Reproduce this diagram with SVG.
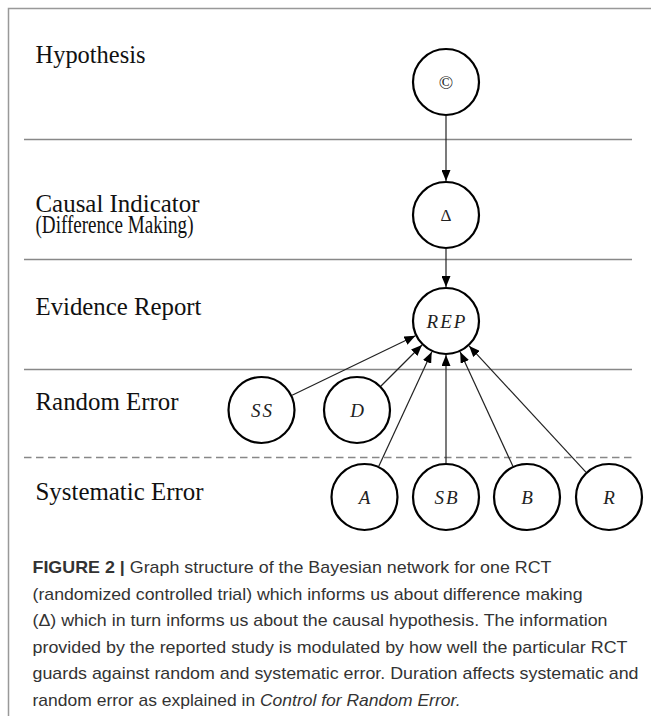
<svg xmlns="http://www.w3.org/2000/svg" width="651" height="716" viewBox="0 0 651 716">
<style>
.lbl{font-family:"Liberation Serif","Times New Roman",serif;font-size:24.5px;fill:#111}
.node circle{fill:#fff;stroke:#000;stroke-width:2.2}
.nt{font-family:"Liberation Serif","Times New Roman",serif;font-style:italic;font-size:19px;fill:#222;text-anchor:middle;letter-spacing:2px}
.sep{stroke:#888;stroke-width:1.4}
.edge line{stroke:#222;stroke-width:1.2;marker-end:url(#ah)}
.cap{font-family:"Liberation Sans",Arial,sans-serif;font-size:17px;fill:#333}
</style>
<defs>
<marker id="ah" markerUnits="userSpaceOnUse" markerWidth="11" markerHeight="9" refX="11" refY="4.5" orient="auto">
<path d="M0,0 L11,4.5 L0,9 z" fill="#000"/>
</marker>
</defs>
<rect width="651" height="716" fill="#fff"/>
<path d="M8.5,716 V8.5 H651" fill="none" stroke="#999" stroke-width="1.5"/>
<g id="separators">
<line class="sep" x1="24" y1="139.5" x2="632" y2="139.5"/>
<line class="sep" x1="24" y1="259.5" x2="632" y2="259.5"/>
<line class="sep" x1="24" y1="369.5" x2="632" y2="369.5"/>
<line class="sep" x1="24" y1="457.5" x2="632" y2="457.5" stroke-dasharray="7.5 4.5"/>
</g>
<g id="row-labels">
<text class="lbl" x="35.5" y="63" textLength="110" lengthAdjust="spacingAndGlyphs">Hypothesis</text>
<text class="lbl" x="35.5" y="212" textLength="164" lengthAdjust="spacingAndGlyphs">Causal Indicator</text>
<text class="lbl" x="35.5" y="233" textLength="158" lengthAdjust="spacingAndGlyphs">(Difference Making)</text>
<text class="lbl" x="35.5" y="315" textLength="166" lengthAdjust="spacingAndGlyphs">Evidence Report</text>
<text class="lbl" x="35.5" y="410" textLength="143" lengthAdjust="spacingAndGlyphs">Random Error</text>
<text class="lbl" x="35.5" y="500" textLength="168" lengthAdjust="spacingAndGlyphs">Systematic Error</text>
</g>
<g id="connectors" class="edge">
<line x1="446" y1="116" x2="446" y2="181"/>
<line x1="446" y1="249" x2="446" y2="287"/>
<line x1="292.1" y1="395.2" x2="415.4" y2="335.8"/>
<line x1="381" y1="386" x2="422" y2="345"/>
<line x1="378.8" y1="466.2" x2="431.7" y2="351.9"/>
<line x1="446" y1="463" x2="446" y2="355"/>
<line x1="512.8" y1="466.1" x2="460.2" y2="351.9"/>
<line x1="585.9" y1="472.1" x2="469.1" y2="345.9"/>
</g>
<g id="node-H" class="node"><circle cx="446" cy="82" r="33"/><text x="446" y="89" text-anchor="middle" font-family="Liberation Serif, serif" font-size="19" fill="#222">©</text></g>
<g id="node-Delta" class="node"><circle cx="446" cy="215" r="33"/><text x="446" y="221" text-anchor="middle" font-family="Liberation Serif, serif" font-size="17" fill="#222">Δ</text></g>
<g id="node-REP" class="node"><circle cx="446" cy="321" r="33"/><text class="nt" x="447" y="328" font-size="21" letter-spacing="1.5">REP</text></g>
<g id="node-SS" class="node"><circle cx="261.5" cy="410" r="33"/><text class="nt" x="262.5" y="417">SS</text></g>
<g id="node-D" class="node"><circle cx="357" cy="410" r="33"/><text class="nt" x="358" y="417">D</text></g>
<g id="node-A" class="node"><circle cx="364.5" cy="497" r="33"/><text class="nt" x="365.5" y="504">A</text></g>
<g id="node-SB" class="node"><circle cx="446" cy="497" r="33"/><text class="nt" x="447" y="504">SB</text></g>
<g id="node-B" class="node"><circle cx="527" cy="497" r="33"/><text class="nt" x="528" y="504">B</text></g>
<g id="node-R" class="node"><circle cx="609" cy="497" r="33"/><text class="nt" x="610" y="504">R</text></g>
<g id="caption">
<text class="cap" x="32.5" y="573" textLength="519" lengthAdjust="spacingAndGlyphs"><tspan font-weight="bold">FIGURE 2 |</tspan> Graph structure of the Bayesian network for one RCT</text>
<text class="cap" x="32.5" y="599.5" textLength="550" lengthAdjust="spacingAndGlyphs">(randomized controlled trial) which informs us about difference making</text>
<text class="cap" x="32.5" y="626" textLength="575" lengthAdjust="spacingAndGlyphs">(Δ) which in turn informs us about the causal hypothesis. The information</text>
<text class="cap" x="32.5" y="652.5" textLength="595" lengthAdjust="spacingAndGlyphs">provided by the reported study is modulated by how well the particular RCT</text>
<text class="cap" x="32.5" y="679" textLength="606" lengthAdjust="spacingAndGlyphs">guards against random and systematic error. Duration affects systematic and</text>
<text class="cap" x="32.5" y="705.5" textLength="428" lengthAdjust="spacingAndGlyphs">random error as explained in <tspan font-style="italic">Control for Random Error.</tspan></text>
</g>
</svg>
